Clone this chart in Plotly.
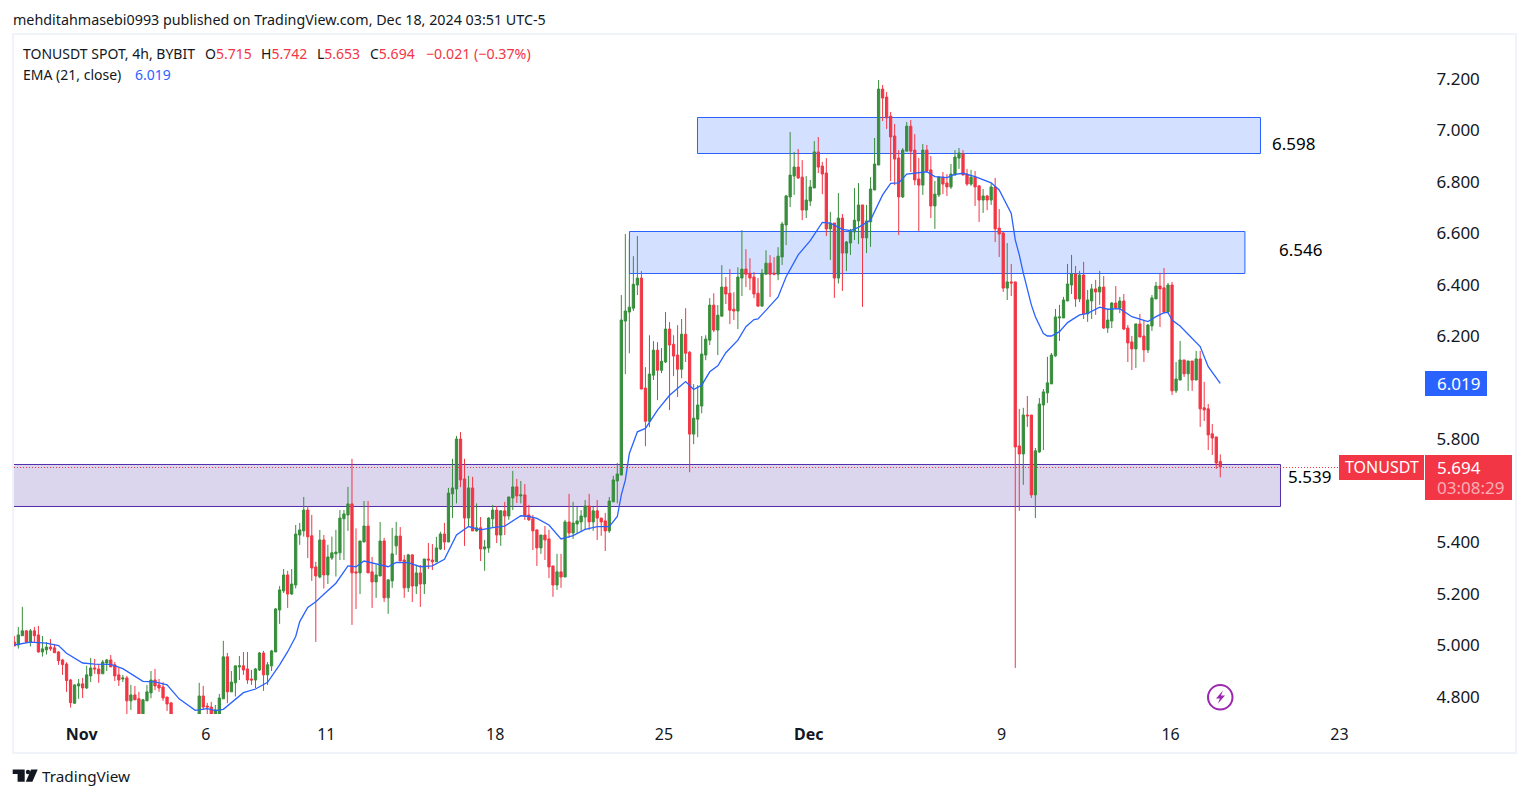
import pandas as pd
import plotly.graph_objects as go

first_bar = "2024-10-29 03:00"

opens = [
5.014,5.002,5.038,5.057,5.013,5.057,5.041,4.975,4.983,4.994,
4.991,4.975,4.944,4.928,4.866,4.776,4.843,4.851,4.835,4.882,
4.913,4.909,4.890,4.932,4.944,4.925,4.886,4.870,4.874,4.785,
4.808,4.793,4.720,4.785,4.816,4.866,4.847,4.839,4.800,4.777,
4.720,4.700,4.690,4.680,4.700,4.690,4.720,4.804,4.765,4.761,
4.720,4.730,4.793,4.956,4.820,4.855,4.917,4.921,4.909,4.870,
4.866,4.905,4.971,4.886,4.921,4.975,5.138,5.212,5.274,5.200,
5.235,5.429,5.445,5.526,5.426,5.305,5.266,5.410,5.274,5.340,
5.356,5.360,5.492,5.507,5.550,5.286,5.282,5.402,5.464,5.286,
5.247,5.270,5.406,5.185,5.251,5.387,5.425,5.332,5.224,5.352,
5.231,5.282,5.239,5.336,5.332,5.325,5.375,5.433,5.402,5.589,
5.608,5.802,5.647,5.495,5.612,5.445,5.457,5.375,5.379,5.492,
5.526,5.429,5.523,5.503,5.573,5.616,5.581,5.585,5.507,5.492,
5.449,5.379,5.429,5.414,5.309,5.235,5.286,5.266,5.480,5.437,
5.472,5.480,5.499,5.542,5.480,5.523,5.495,5.484,5.445,5.558,
5.639,5.662,6.260,6.295,6.310,6.400,6.427,6.000,5.871,6.050,
6.147,6.069,6.101,6.229,6.170,6.128,6.073,6.209,6.139,5.821,
5.879,5.930,6.128,6.186,6.322,6.225,6.279,6.392,6.368,6.306,
6.299,6.427,6.462,6.446,6.431,6.368,6.318,6.442,6.485,6.446,
6.442,6.509,6.633,6.742,6.823,6.858,6.819,6.691,6.726,6.777,
6.917,6.862,6.835,6.618,6.641,6.427,6.660,6.524,6.563,6.606,
6.649,6.711,6.583,6.645,6.769,6.866,7.161,7.130,7.056,6.979,
6.893,6.742,6.920,7.017,6.924,6.812,6.788,6.924,6.847,6.707,
6.750,6.819,6.796,6.781,6.827,6.893,6.909,6.831,6.792,6.819,
6.785,6.730,6.746,6.730,6.781,6.621,6.602,6.388,6.412,6.412,
5.775,5.744,5.895,5.895,5.585,5.752,5.934,5.981,6.016,6.125,
6.272,6.272,6.338,6.400,6.443,6.346,6.439,6.288,6.338,6.385,
6.373,6.392,6.233,6.260,6.330,6.311,6.338,6.233,6.179,6.152,
6.249,6.202,6.148,6.241,6.346,6.396,6.389,6.295,6.400,5.989,
6.031,6.109,6.055,6.105,6.031,6.113,5.923,5.919,5.822,5.810,5.715]

highs = [
5.037,5.072,5.150,5.060,5.064,5.072,5.076,5.037,5.013,5.025,
5.006,4.978,4.948,4.935,4.870,4.849,4.870,4.874,4.921,4.952,
4.948,4.928,4.944,4.948,4.963,4.936,4.913,4.886,4.882,4.847,
4.843,4.820,4.793,4.847,4.901,4.909,4.870,4.858,4.800,4.781,
4.730,4.720,4.720,4.710,4.720,4.720,4.855,4.843,4.777,4.781,
4.769,4.812,5.018,4.971,4.901,4.921,4.959,4.975,4.975,4.905,
4.913,4.975,4.979,4.936,4.983,5.146,5.231,5.297,5.290,5.297,
5.468,5.476,5.577,5.542,5.507,5.325,5.449,5.429,5.391,5.423,
5.449,5.526,5.526,5.616,5.725,5.455,5.406,5.561,5.561,5.344,
5.313,5.480,5.418,5.255,5.457,5.480,5.460,5.352,5.356,5.352,
5.313,5.313,5.336,5.398,5.394,5.422,5.442,5.476,5.612,5.725,
5.814,5.829,5.725,5.659,5.655,5.552,5.499,5.410,5.499,5.546,
5.542,5.526,5.558,5.577,5.678,5.647,5.639,5.627,5.546,5.507,
5.449,5.429,5.464,5.449,5.309,5.356,5.356,5.488,5.589,5.558,
5.538,5.526,5.565,5.589,5.538,5.565,5.495,5.515,5.577,5.659,
5.709,6.361,6.598,6.578,6.512,6.590,6.454,6.081,6.205,6.182,
6.178,6.155,6.295,6.256,6.205,6.244,6.268,6.310,6.143,6.015,
6.011,6.202,6.205,6.349,6.368,6.322,6.477,6.431,6.462,6.372,
6.469,6.613,6.539,6.504,6.450,6.427,6.462,6.535,6.516,6.508,
6.547,6.645,6.750,6.994,6.917,6.928,6.885,6.823,6.808,6.959,
6.975,6.878,6.893,6.684,6.641,6.757,6.676,6.571,6.618,6.777,
6.796,6.711,6.711,6.819,6.971,7.196,7.177,7.150,7.072,7.025,
6.924,6.932,7.033,7.041,6.986,6.893,6.948,6.944,6.901,6.804,
6.823,6.839,6.831,6.870,6.924,6.932,6.924,6.851,6.847,6.843,
6.788,6.773,6.750,6.796,6.816,6.695,6.606,6.563,6.482,6.412,
5.919,5.923,5.969,5.895,5.767,5.961,5.996,6.121,6.136,6.307,
6.323,6.354,6.482,6.517,6.474,6.455,6.490,6.381,6.404,6.420,
6.455,6.435,6.303,6.334,6.396,6.354,6.365,6.245,6.202,6.249,
6.288,6.264,6.249,6.361,6.412,6.447,6.466,6.408,6.412,6.101,
6.183,6.109,6.105,6.105,6.144,6.144,6.024,5.938,5.860,5.810,5.742]

lows = [
4.998,4.988,5.038,5.010,4.996,5.013,4.972,4.957,4.965,4.979,
4.972,4.925,4.886,4.820,4.759,4.773,4.793,4.796,4.831,4.858,
4.890,4.855,4.890,4.901,4.917,4.862,4.843,4.858,4.700,4.750,
4.789,4.700,4.700,4.785,4.795,4.827,4.820,4.785,4.746,4.700,
4.680,4.670,4.660,4.660,4.670,4.660,4.700,4.750,4.700,4.700,
4.700,4.710,4.793,4.776,4.820,4.802,4.866,4.886,4.851,4.847,
4.835,4.901,4.824,4.847,4.901,4.975,5.084,5.204,5.146,5.196,
5.222,5.391,5.423,5.340,5.251,5.014,5.261,5.222,5.239,5.332,
5.268,5.332,5.332,5.445,5.080,5.142,5.200,5.402,5.282,5.146,
5.185,5.270,5.169,5.123,5.224,5.352,5.328,5.185,5.208,5.169,
5.200,5.150,5.200,5.297,5.293,5.325,5.371,5.371,5.402,5.495,
5.552,5.615,5.387,5.464,5.445,5.442,5.328,5.290,5.360,5.457,
5.398,5.387,5.429,5.488,5.526,5.554,5.552,5.488,5.484,5.371,
5.309,5.356,5.332,5.262,5.189,5.216,5.224,5.266,5.418,5.414,
5.437,5.445,5.449,5.449,5.445,5.410,5.426,5.367,5.437,5.558,
5.552,5.662,6.054,6.135,6.299,6.361,5.996,5.774,5.848,6.031,
5.953,6.058,6.097,5.914,6.046,5.965,6.038,6.101,5.673,5.782,
5.809,5.902,6.108,6.167,6.217,6.128,6.279,6.326,6.248,6.264,
6.229,6.357,6.392,6.380,6.349,6.318,6.318,6.442,6.353,6.438,
6.419,6.478,6.555,6.703,6.750,6.812,6.652,6.660,6.707,6.777,
6.835,6.753,6.590,6.497,6.350,6.406,6.377,6.454,6.517,6.575,
6.559,6.315,6.524,6.548,6.769,6.866,7.037,7.006,6.804,6.788,
6.594,6.738,6.920,6.839,6.788,6.610,6.750,6.839,6.660,6.618,
6.742,6.753,6.746,6.773,6.827,6.851,6.827,6.785,6.785,6.707,
6.645,6.680,6.691,6.711,6.567,6.509,6.373,6.342,6.357,4.913,
5.523,5.624,5.849,5.573,5.495,5.748,5.759,5.942,6.016,6.121,
6.183,6.272,6.338,6.365,6.315,6.334,6.268,6.257,6.268,6.284,
6.323,6.229,6.214,6.233,6.307,6.291,6.225,6.101,6.070,6.078,
6.198,6.101,6.136,6.222,6.346,6.237,6.288,6.291,5.973,5.981,
6.031,6.043,5.989,5.989,6.031,5.849,5.872,5.759,5.740,5.686,5.653]

closes = [
4.998,5.041,5.057,5.013,5.057,5.038,4.975,4.987,4.994,4.987,
4.972,4.941,4.926,4.864,4.778,4.847,4.851,4.835,4.886,4.913,
4.909,4.890,4.936,4.944,4.917,4.882,4.866,4.874,4.785,4.808,
4.789,4.720,4.789,4.820,4.866,4.843,4.835,4.796,4.773,4.720,
4.700,4.690,4.680,4.700,4.690,4.710,4.804,4.761,4.761,4.720,
4.750,4.796,4.956,4.820,4.858,4.921,4.921,4.905,4.866,4.866,
4.909,4.971,4.886,4.925,4.979,5.142,5.216,5.274,5.200,5.239,
5.433,5.449,5.526,5.422,5.301,5.270,5.410,5.274,5.344,5.360,
5.363,5.495,5.511,5.550,5.282,5.282,5.406,5.464,5.282,5.247,
5.274,5.406,5.185,5.255,5.356,5.425,5.328,5.224,5.352,5.231,
5.282,5.239,5.336,5.332,5.325,5.379,5.433,5.402,5.592,5.612,
5.802,5.643,5.495,5.612,5.445,5.457,5.375,5.383,5.495,5.526,
5.429,5.523,5.503,5.577,5.616,5.581,5.585,5.503,5.488,5.445,
5.379,5.429,5.410,5.305,5.235,5.286,5.266,5.480,5.437,5.476,
5.484,5.503,5.542,5.480,5.523,5.495,5.480,5.445,5.561,5.643,
5.666,6.264,6.299,6.314,6.403,6.427,5.996,5.871,6.054,6.147,
6.069,6.104,6.229,6.167,6.124,6.073,6.209,6.135,5.821,5.883,
5.934,6.132,6.190,6.322,6.225,6.283,6.392,6.365,6.302,6.299,
6.431,6.462,6.442,6.427,6.365,6.318,6.446,6.485,6.442,6.442,
6.512,6.637,6.746,6.827,6.858,6.816,6.691,6.730,6.781,6.917,
6.858,6.831,6.618,6.641,6.427,6.660,6.524,6.567,6.610,6.652,
6.711,6.583,6.649,6.773,6.870,7.161,7.126,7.049,6.975,6.889,
6.742,6.924,7.017,6.920,6.808,6.788,6.924,6.843,6.707,6.753,
6.819,6.792,6.781,6.831,6.897,6.913,6.827,6.792,6.819,6.781,
6.730,6.746,6.730,6.781,6.618,6.598,6.388,6.412,6.408,5.771,
5.744,5.895,5.892,5.585,5.756,5.938,5.985,6.020,6.128,6.276,
6.276,6.342,6.404,6.443,6.346,6.439,6.288,6.342,6.385,6.373,
6.392,6.233,6.264,6.330,6.311,6.338,6.229,6.175,6.152,6.249,
6.198,6.148,6.245,6.350,6.396,6.385,6.295,6.400,5.989,6.035,
6.109,6.055,6.105,6.031,6.113,5.919,5.915,5.818,5.806,5.709,5.694]

ema_bar = [0,4,8,11,13,15,17,20,24,27,30,32,35,38,41,45,48,50,52,54,57,60,63,66,68,70,71,
           73,75,77,80,83,85,87,90,93,95,98,101,104,107,110,113,116,119,122,126,128,130,133,
           136,139,142,145,148,150,151,152,153,155,157,160,163,167,169,171,173,175,177,180,
           182,184,185,188,190,192,195,198,201,203,206,208,210,213,215,216,218,220,222,224,
           227,229,232,234,236,239,242,243,245,248,249,250,251,252,253,254,256,257,258,260,
           262,265,267,270,272,275,278,280,282,284,286,287,288,290,293,295,297,300]
ema_val = [5.002,5.013,5.009,5.000,4.970,4.950,4.932,4.928,4.927,4.910,4.879,4.861,4.859,4.847,
           4.793,4.748,4.755,4.747,4.752,4.778,4.817,4.831,4.857,4.925,4.976,5.035,5.093,
           5.148,5.170,5.199,5.242,5.309,5.306,5.328,5.317,5.306,5.323,5.322,5.306,5.309,5.335,
           5.429,5.462,5.449,5.458,5.464,5.504,5.501,5.494,5.468,5.414,5.427,5.451,5.462,5.462,
           5.501,5.585,5.642,5.746,5.830,5.843,5.914,5.972,6.025,5.994,6.011,6.063,6.086,6.137,
           6.186,6.238,6.266,6.268,6.322,6.354,6.432,6.517,6.572,6.643,6.640,6.616,6.611,6.624,
           6.652,6.717,6.750,6.795,6.797,6.831,6.834,6.840,6.821,6.817,6.830,6.834,6.821,6.801,
           6.797,6.769,6.678,6.575,6.517,6.446,6.381,6.323,6.277,6.212,6.202,6.202,6.219,6.254,
           6.284,6.290,6.314,6.306,6.308,6.277,6.268,6.258,6.277,6.293,6.293,6.264,6.241,6.191,
           6.161,6.083,6.018]

y_ticks = [7.2,7.0,6.8,6.6,6.4,6.2,5.8,5.4,5.2,5.0,4.8]
x_tick_dates = ["2024-10-31 22:00","2024-11-06 01:30","2024-11-11 01:30","2024-11-18 01:30","2024-11-25 01:30",
                "2024-12-01 01:30","2024-12-09 01:30","2024-12-16 01:30","2024-12-23 01:30"]
x_tick_text = ["<b>Nov</b>","6","11","18","25","<b>Dec</b>","9","16","23"]

zone_start = ["2024-11-26 10:48","2024-11-23 15:06","2024-10-29 00:00"]
zone_end = ["2024-12-19 19:00","2024-12-19 03:30","2024-12-20 14:54"]
zone_top = [7.0506,6.6079,5.7030]
zone_bottom = [6.9108,6.4448,5.5399]
zone_line = ["#2962ff","#2962ff","#512da8"]
zone_fill = ["rgba(41,98,255,0.2)","rgba(41,98,255,0.2)","rgba(81,45,168,0.2)"]
zone_labels = ["6.598","6.546","5.539"]

W, H = 1529, 798
L, R, T, B = 14, 1424, 35, 714
FONT = "Noto Sans"
INK = "#131722"
RED = "#f23645"
BLUE = "#2962ff"
GREEN = "#388e3c"

def px(x):
    return (x - L) / (R - L)

def py(y):
    return 1 - (y - T) / (B - T)

times = pd.date_range(first_bar, periods=len(opens), freq="4h")
ema_times = [times[i] for i in ema_bar]

fig = go.Figure()
fig.add_trace(go.Candlestick(
    x=times, open=opens, high=highs, low=lows, close=closes,
    increasing=dict(line=dict(color=GREEN, width=1), fillcolor=GREEN),
    decreasing=dict(line=dict(color=RED, width=1), fillcolor=RED),
    whiskerwidth=0, showlegend=False, hoverinfo="skip"))
fig.add_trace(go.Scatter(x=ema_times, y=ema_val, mode="lines",
                         line=dict(color=BLUE, width=1.3), showlegend=False, hoverinfo="skip"))

shapes = []
for s, e, t, b, lc, fc in zip(zone_start, zone_end, zone_top, zone_bottom, zone_line, zone_fill):
    shapes.append(dict(type="rect", xref="x", yref="y", x0=s, x1=e, y0=b, y1=t,
                       line=dict(color=lc, width=1), fillcolor=fc, layer="below"))
# last price line, nudged onto a whole pixel row
shapes.append(dict(type="line", xref="paper", yref="y", x0=0, x1=px(1339),
                   y0=closes[-1] - 0.0027, y1=closes[-1] - 0.0027,
                   line=dict(color=RED, width=1, dash="1px,2px")))

def box(x0, y0, x1, y1, fill, line=None, lw=0):
    return dict(type="rect", xref="paper", yref="paper", x0=px(x0), x1=px(x1), y0=py(y1), y1=py(y0),
                fillcolor=fill, line=dict(color=line or fill, width=lw), layer="above")

def poly(points, fill):
    d = "M" + " L".join(f"{px(a):.5f},{py(b):.5f}" for a, b in points) + " Z"
    return dict(type="path", xref="paper", yref="paper", path=d, fillcolor=fill,
                line=dict(width=0), layer="above")

# outer frame
shapes.append(box(13, 34, 1516, 753, "rgba(0,0,0,0)", "#f0f3fa", 2))
# price scale labels
shapes.append(box(1425, 371, 1487, 396, BLUE))
shapes.append(box(1339, 455, 1424, 480, RED))
shapes.append(box(1425, 455, 1512, 500, RED))
# lightning icon
shapes.append(dict(type="circle", xref="paper", yref="paper", x0=px(1208), x1=px(1232.5), y0=py(709.5), y1=py(685),
                   line=dict(color="#9c27b0", width=2), fillcolor="rgba(0,0,0,0)"))
shapes.append(poly([(1223, 690.5), (1216, 698.5), (1219.8, 698.5), (1218, 703.5), (1225, 695.5), (1221, 695.5)], "#9c27b0"))
# TradingView mark
shapes.append(poly([(12.7, 769.5), (24.7, 769.5), (24.7, 781.7), (17.6, 781.7), (17.6, 774), (12.7, 774)], INK))
shapes.append(dict(type="circle", xref="paper", yref="paper", x0=px(25.8), x1=px(30.2), y0=py(774.2), y1=py(769.8),
                   fillcolor=INK, line=dict(width=0)))
shapes.append(poly([(31, 769.5), (37.7, 769.5), (32.4, 781.7), (25.8, 781.7)], INK))

def note(x, y, text, size=14, color=INK, anchor="left"):
    return dict(xref="paper", yref="paper", x=px(x), y=py(y), text=text, showarrow=False,
                xanchor=anchor, yanchor="middle", align="left", borderpad=0,
                font=dict(family=FONT, size=size, color=color))

def red(v):
    return f'<span style="color:{RED}">{v}</span>'

annotations = [
    note(12, 19, "mehditahmasebi0993 published on TradingView.com, Dec 18, 2024 03:51 UTC-5", 14.3),
    note(22, 53, "TONUSDT SPOT, 4h, BYBIT"),
    note(204, 53, "O" + red("5.715")),
    note(260, 53, "H" + red("5.742")),
    note(316, 53, "L" + red("5.653")),
    note(369, 53, "C" + red("5.694")),
    note(425, 53, red("−0.021 (−0.37%)"), 14.2),
    note(22, 74, "EMA (21, close)"),
    note(134, 74, "6.019", color=BLUE),
    note(1293, 143, zone_labels[0], 17, "#000000", "center"),
    note(1300.5, 249, zone_labels[1], 17, "#000000", "center"),
    note(1309, 476, zone_labels[2], 17, "#000000", "center"),
    note(1436, 384, "6.019", 17, "#ffffff"),
    note(1381.5, 467, "TONUSDT", 16, "#ffffff", "center"),
    note(1436, 467, "5.694", 17, "#ffffff"),
    note(1436, 487.5, "03:08:29", 17, "rgba(255,255,255,0.6)"),
    note(41, 776, "TradingView", 15.3, INK),
]

fig.update_layout(
    width=W, height=H, autosize=False,
    margin=dict(l=L, r=W - R, t=T, b=H - B, pad=0),
    paper_bgcolor="#ffffff", plot_bgcolor="#ffffff",
    font=dict(family=FONT, size=16, color=INK),
    showlegend=False, shapes=shapes, annotations=annotations,
    boxgap=0.25, boxgroupgap=0.25,
    xaxis=dict(type="date", range=["2024-10-29 02:42", "2024-12-26 13:42"],
               rangeslider=dict(visible=False), showgrid=False, zeroline=False, showline=False,
               tickmode="array", tickvals=x_tick_dates, ticktext=x_tick_text,
               ticks="outside", ticklen=6, tickcolor="rgba(0,0,0,0)",
               tickangle=0, tickfont=dict(family=FONT, size=16, color=INK)),
    yaxis=dict(side="right", range=[4.734, 7.371], showgrid=False, zeroline=False, showline=False,
               tickmode="array", tickvals=y_ticks, tickformat=".3f",
               ticks="outside", ticklen=8, tickcolor="rgba(0,0,0,0)",
               tickfont=dict(family=FONT, size=17, color=INK)),
)

fig.write_html("out.html", config=dict(displayModeBar=False),
               post_script="document.body.style.margin='0';")
